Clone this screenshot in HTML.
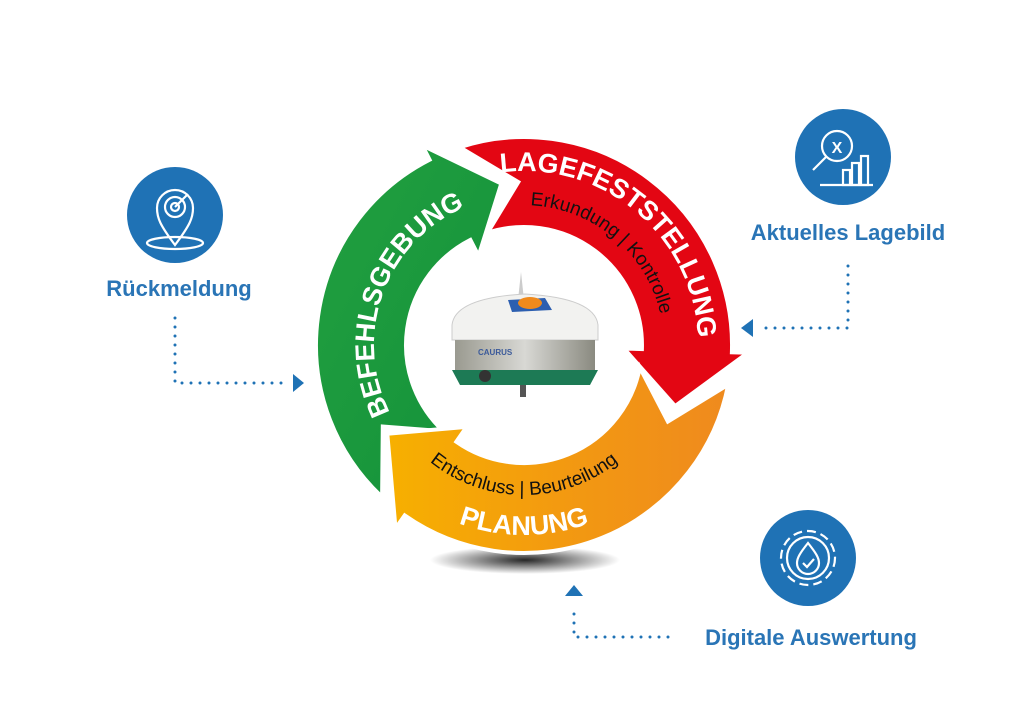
<!DOCTYPE html>
<html><head><meta charset="utf-8"><style>
html,body{margin:0;padding:0;background:#fff;width:1024px;height:722px;overflow:hidden}
svg{display:block}
.lbl{font-family:"Liberation Sans",sans-serif;font-size:22px;font-weight:bold;fill:#2a75b6}
</style></head><body>
<svg id="s" width="1024" height="722" viewBox="0 0 1024 722" xmlns="http://www.w3.org/2000/svg">
<defs>
<radialGradient id="sh" cx="50%" cy="50%" r="50%"><stop offset="0" stop-color="#000" stop-opacity=".85"/><stop offset="1" stop-color="#000" stop-opacity="0"/></radialGradient>
<linearGradient id="og" x1="0" y1="0" x2="1" y2="0"><stop offset="0" stop-color="#f7b000"/><stop offset=".5" stop-color="#f39a10"/><stop offset="1" stop-color="#ef8a1e"/></linearGradient>
<linearGradient id="gg" x1="0" y1="0" x2="1" y2="1"><stop offset="0" stop-color="#22a040"/><stop offset="1" stop-color="#13913a"/></linearGradient>
<linearGradient id="mg" x1="0" y1="0" x2="1" y2="0"><stop offset="0" stop-color="#9a9a90"/><stop offset=".5" stop-color="#d8d8d4"/><stop offset="1" stop-color="#8a8a80"/></linearGradient>
</defs>
<ellipse cx="525" cy="560" rx="95" ry="14" fill="url(#sh)"/>
<g id="ring"></g>
<g>
<path d="M518 300 L521 272 L524 300 Z" fill="#ccc"/>
<path d="M452 325 Q455 298 525 294 Q595 298 598 325 L598 340 L452 340 Z" fill="#f2f2f0" stroke="#ccc"/>
<path d="M508 300 L545 298 L552 310 L512 312 Z" fill="#2d5fb0"/>
<ellipse cx="530" cy="303" rx="12" ry="6" fill="#f08a1c"/>
<rect x="455" y="340" width="140" height="30" fill="url(#mg)"/>
<text x="478" y="355" font-family="Liberation Sans,sans-serif" font-size="8" font-weight="bold" fill="#3b5a9a">CAURUS</text>
<path d="M452 370 L598 370 L590 385 L460 385 Z" fill="#1d7a55"/>
<circle cx="485" cy="376" r="6" fill="#333"/>
<rect x="520" y="385" width="6" height="12" fill="#555"/>
</g>
<circle cx="175" cy="215" r="48" fill="#1f72b5"/>
<g stroke="#fff" stroke-width="2.2" fill="none">
<path d="M175 245 C160 225 157 218 157 208 A18 18 0 0 1 193 208 C193 218 190 225 175 245 Z"/>
<circle cx="175" cy="207" r="10"/><circle cx="175" cy="207" r="4"/>
<ellipse cx="175" cy="243" rx="28" ry="6"/><line x1="175" y1="207" x2="188" y2="194"/>
</g>
<circle cx="843" cy="157" r="48" fill="#1f72b5"/>
<g stroke="#fff" stroke-width="2.2" fill="none">
<circle cx="837" cy="146" r="15"/><line x1="826" y1="157" x2="813" y2="170"/>
<line x1="820" y1="185" x2="873" y2="185"/>
<rect x="843" y="170" width="7" height="15"/><rect x="852" y="163" width="7" height="22"/><rect x="861" y="156" width="7" height="29"/>
</g>
<text x="837" y="153" text-anchor="middle" font-family="Liberation Sans,sans-serif" font-weight="bold" font-size="16" fill="#fff">X</text>
<circle cx="808" cy="558" r="48" fill="#1f72b5"/>
<g stroke="#fff" stroke-width="2.2" fill="none">
<circle cx="808" cy="558" r="27" stroke-dasharray="9 5"/>
<circle cx="808" cy="558" r="21"/>
<path d="M808 543 C800 553 797 558 797 563 A11 11 0 0 0 819 563 C819 558 816 553 808 543 Z"/>
<path d="M803 563 L807 567 L814 559"/>
</g>
<text class="lbl" x="179" y="296" text-anchor="middle">Rückmeldung</text>
<text class="lbl" x="848" y="240" text-anchor="middle">Aktuelles Lagebild</text>
<text class="lbl" x="811" y="645" text-anchor="middle">Digitale Auswertung</text>
<g stroke="#1f72b5" stroke-width="3" stroke-linecap="round" stroke-dasharray="0 9" fill="none">
<path d="M175 318 L175 383 L288 383"/>
<path d="M848 266 L848 328 L760 328"/>
<path d="M668 637 L574 637 L574 605"/>
</g>
<g fill="#1f72b5">
<path d="M293 374 L304 383 L293 392 Z"/>
<path d="M753 319 L741 328 L753 337 Z"/>
<path d="M565 596 L574 585 L583 596 Z"/>
</g>
</svg>
<script>
var cx=524,cy=345,Ro=208,Ri=118,Rm=163,ns="http://www.w3.org/2000/svg";
function P(a,r){a=a*Math.PI/180;return (cx+r*Math.cos(a)).toFixed(1)+" "+(cy+r*Math.sin(a)).toFixed(1);}
function arrow(tt,tn,tb,tp){
 var lg=(((tb-tt)%360+360)%360)>180?1:0;
 return "M"+P(tt,Ro)+" A"+Ro+" "+Ro+" 0 "+lg+" 1 "+P(tb,Ro)+" L"+P(tb,Ro+16)+" L"+P(tp,Rm)+" L"+P(tb,Ri-18)+" L"+P(tb,Ri)+" A"+Ri+" "+Ri+" 0 "+lg+" 0 "+P(tt,Ri)+" L"+P(tn,Rm)+" Z";
}
var g=document.getElementById("ring");
function add(tag,at,parent){var e=document.createElementNS(ns,tag);for(var k in at)e.setAttribute(k,at[k]);(parent||g).appendChild(e);return e;}
add("path",{d:arrow(133,150,243,262),fill:"url(#gg)",stroke:"#fff","stroke-width":4});
add("path",{d:arrow(252,268,2,22),fill:"#e30613",stroke:"#fff","stroke-width":4});
add("path",{d:arrow(11,28,125,147),fill:"url(#og)",stroke:"#fff","stroke-width":4});
function arc(id,a1,a2,r,sw){
 var d="M"+P(a1,r)+" A"+r+" "+r+" 0 0 "+sw+" "+P(a2,r);
 add("path",{id:id,d:d,fill:"none"});
}
arc("tg",145,255,150,1);
arc("tr",230,30,174,1);
arc("tr2",230,30,140,1);
arc("to",150,30,190,0);
arc("to2",150,30,150,0);
function tp(id,txt,size,weight,fill){
 var t=add("text",{"font-family":"Liberation Sans, sans-serif","font-size":size,"font-weight":weight,fill:fill,"text-anchor":"middle"});
 var p=add("textPath",{href:"#"+id,startOffset:"50%"},t);
 p.setAttributeNS("http://www.w3.org/1999/xlink","xlink:href","#"+id);
 p.textContent=txt;
}
tp("tg","BEFEHLSGEBUNG",27,"bold","#fff");
tp("tr","LAGEFESTSTELLUNG",27,"bold","#fff");
tp("tr2","Erkundung | Kontrolle",19,"normal","#111");
tp("to","PLANUNG",27,"bold","#fff");
tp("to2","Entschluss | Beurteilung",19,"normal","#111");
</script>
</body></html>
